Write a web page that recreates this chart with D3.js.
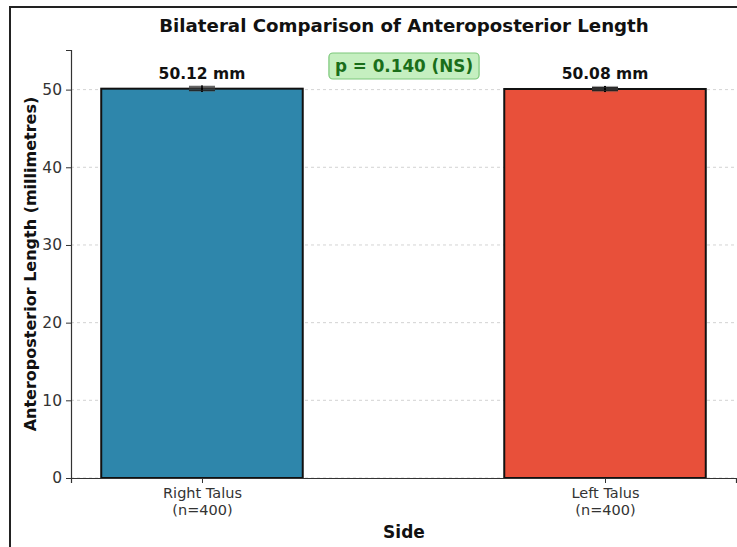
<!DOCTYPE html>
<html>
<head>
<meta charset="utf-8">
<script src="https://cdn.jsdelivr.net/npm/d3@7"></script>
<style>
  body { margin: 0; background: #fff; }
  svg { font-family: "DejaVu Sans", sans-serif; display: block; }
</style>
</head>
<body>
<div id="chart"></div>
<script>
// chart data
const sides = ["Right Talus", "Left Talus"];
const sampleSizes = [400, 400];
const means = [50.12, 50.08];
const errors = [0.22, 0.2];
const barColors = ["#2e86ab", "#e8503a"];
const yTicks = [0, 10, 20, 30, 40, 50];
const pLabel = "p = 0.140 (NS)";

const W = 737, H = 547;
const margin = { top: 50, right: 1, bottom: 69, left: 71 };
const width = W - margin.left - margin.right;
const height = H - margin.top - margin.bottom;

const svg = d3.select("#chart").append("svg")
  .attr("width", W)
  .attr("height", H);

// figure frame
svg.append("rect")
  .attr("x", 10).attr("y", 7)
  .attr("width", W).attr("height", H)
  .attr("fill", "none")
  .attr("stroke", "#222")
  .attr("stroke-width", 2);

const g = svg.append("g")
  .attr("transform", "translate(" + margin.left + "," + margin.top + ")");

// categorical positions 0,1 with matplotlib-like limits
const x = d3.scaleLinear().domain([-0.325, 1.325]).range([0, width]);
const barW = x(0.5) - x(0);

const y = d3.scaleLinear().domain([0, 55.1]).range([height, 0]);

// grid
g.append("g")
  .selectAll("line")
  .data(yTicks)
  .join("line")
  .attr("x1", 0).attr("x2", width)
  .attr("y1", d => y(d)).attr("y2", d => y(d))
  .attr("stroke", "#c8c8c8")
  .attr("stroke-width", 0.8)
  .attr("stroke-dasharray", "3,3");

// bars
g.selectAll("rect.bar")
  .data(means)
  .join("rect")
  .attr("class", "bar")
  .attr("x", (d, i) => x(i) - barW / 2)
  .attr("y", d => y(d))
  .attr("width", barW)
  .attr("height", d => y(0) - y(d))
  .attr("fill", (d, i) => barColors[i])
  .attr("stroke", "#111")
  .attr("stroke-width", 2);

// error bars
const eb = g.append("g");
means.forEach((m, i) => {
  const cx = x(i);
  eb.append("rect")
    .attr("x", cx - 13).attr("y", y(m + errors[i]) - 1.5)
    .attr("width", 26).attr("height", y(m - errors[i]) - y(m + errors[i]) + 3)
    .attr("fill", "#555").attr("opacity", 0.45);
  eb.append("line")
    .attr("x1", cx).attr("x2", cx)
    .attr("y1", y(m + errors[i]) - 1.5).attr("y2", y(m - errors[i]) + 1.5)
    .attr("stroke", "#000").attr("stroke-width", 2);
  [m + errors[i], m - errors[i]].forEach(v => {
    eb.append("line")
      .attr("x1", cx - 13).attr("x2", cx + 13)
      .attr("y1", y(v)).attr("y2", y(v))
      .attr("stroke", "#222").attr("stroke-width", 1);
  });
});

// value labels
g.selectAll("text.val")
  .data(means)
  .join("text")
  .attr("class", "val")
  .attr("x", (d, i) => x(i))
  .attr("y", d => y(d) - 10)
  .attr("text-anchor", "middle")
  .attr("font-size", 15.5)
  .attr("font-weight", "bold")
  .attr("fill", "#111")
  .text(d => d.toFixed(2) + " mm");

// axes
const yAxis = g.append("g")
  .call(d3.axisLeft(y).tickValues(yTicks).tickSize(5).tickPadding(4));
const xAxis = g.append("g")
  .attr("transform", "translate(0," + height + ")")
  .call(d3.axisBottom(x).tickValues([0, 1]).tickSize(5).tickFormat(""));
[yAxis, xAxis].forEach(a => {
  a.select(".domain").attr("stroke", "#333").attr("stroke-width", 1.2);
  a.selectAll(".tick line").attr("stroke", "#333");
  a.selectAll("text").attr("font-size", 15.5).attr("fill", "#333")
    .attr("font-family", "DejaVu Sans, sans-serif");
});

// x tick labels on two lines
xAxis.selectAll(".tick").each(function(d) {
  const t = d3.select(this).append("text")
    .attr("text-anchor", "middle")
    .attr("fill", "#333")
    .attr("font-size", 14.5)
    .attr("font-family", "DejaVu Sans, sans-serif");
  t.append("tspan").attr("x", 0).attr("y", 20).text(sides[d]);
  t.append("tspan").attr("x", 0).attr("y", 37).text("(n=" + sampleSizes[d] + ")");
});

// p-value box
const pg = svg.append("g");
const pt = pg.append("text")
  .attr("x", 404).attr("y", 72)
  .attr("text-anchor", "middle")
  .attr("font-size", 16.8)
  .attr("font-weight", "bold")
  .attr("fill", "#1a6e1a")
  .text(pLabel);
const bb = pt.node().getBBox();
pg.insert("rect", "text")
  .attr("x", bb.x - 6).attr("y", 53)
  .attr("width", bb.width + 12).attr("height", 26)
  .attr("rx", 4)
  .attr("fill", "#c5efc0")
  .attr("stroke", "#7cc87a")
  .attr("stroke-width", 1.2);

// title and axis labels
svg.append("text")
  .attr("x", 404).attr("y", 32)
  .attr("text-anchor", "middle")
  .attr("font-size", 18.2)
  .attr("font-weight", "bold")
  .attr("fill", "#111")
  .text("Bilateral Comparison of Anteroposterior Length");

svg.append("text")
  .attr("x", 404).attr("y", 538)
  .attr("text-anchor", "middle")
  .attr("font-size", 17)
  .attr("font-weight", "bold")
  .attr("fill", "#111")
  .text("Side");

svg.append("text")
  .attr("transform", "translate(36," + 264 + ") rotate(-90)")
  .attr("text-anchor", "middle")
  .attr("font-size", 16)
  .attr("font-weight", "bold")
  .attr("fill", "#111")
  .text("Anteroposterior Length (millimetres)");
</script>
</body>
</html>
